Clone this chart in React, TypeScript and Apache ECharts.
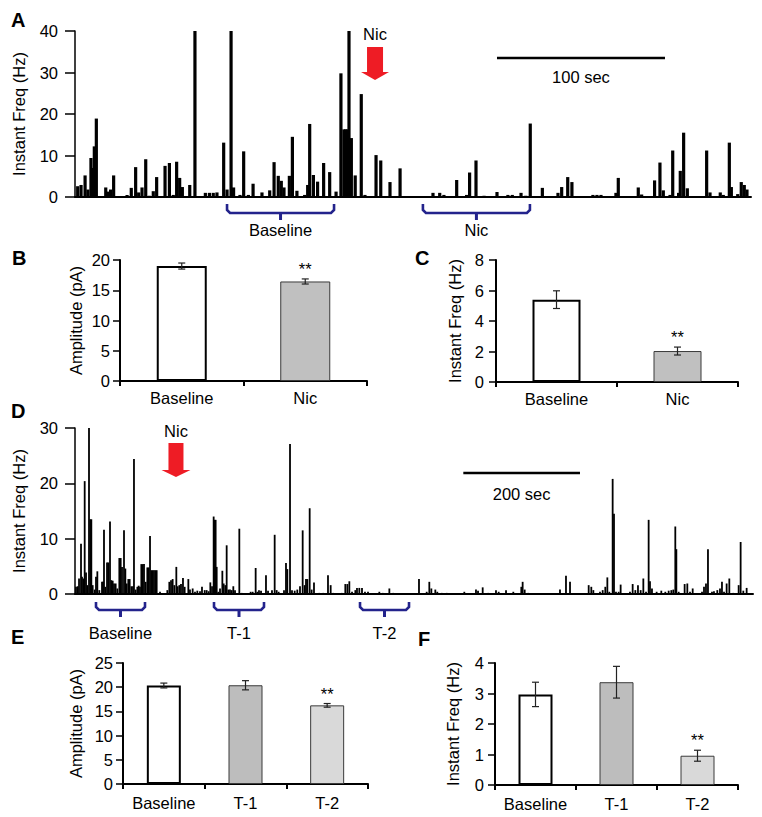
import { useEffect, useRef } from "react";
import * as echarts from "echarts";

const FONT = '"Liberation Sans", Arial, Helvetica, sans-serif';
const FS = 16.5;

// ---------------- Panel A: instantaneous frequency trace (time s, Hz) ----------------
const traceATime = [
  1.6, 3.6, 6.0, 7.7, 9.5, 10.7, 11.5, 12.7, 18.3, 19.8, 21.2, 23.0, 31.0, 33.5, 36.1, 37.9, 39.9, 42.1,
  44.2, 46.6, 48.6, 53.6, 56.2, 58.5, 60.5, 62.3, 63.9, 68.3, 71.4, 77.6, 80.0, 82.3, 84.5, 88.5, 90.5,
  92.9, 94.4, 98.2, 100.4, 103.2, 106.0, 111.3, 115.9, 118.5, 121.0, 122.8, 124.4, 127.6, 129.4, 132.1,
  136.7, 138.5, 139.7, 141.9, 144.4, 148.0, 151.6, 155.4, 158.3, 160.1, 161.1, 162.1, 163.1, 164.5, 166.8,
  170.4, 172.6, 179.2, 182.0, 187.5, 193.5, 206.8, 213.1, 217.1, 219.6, 227.2, 233.1, 234.9, 238.7, 243.5,
  251.2, 257.7, 260.3, 265.5, 268.3, 271.0, 278.2, 282.9, 287.5, 289.7, 293.3, 295.8, 308.3, 310.7, 313.1,
  322.0, 323.4, 335.3, 337.3, 345.0, 348.2, 350.2, 354.2, 355.8, 359.3, 360.3, 362.3, 364.5, 376.0, 378.0,
  384.1, 385.9, 389.5, 390.7, 394.5, 396.6, 398.4, 400.0,
];
const traceAFreq = [
  2.6, 2.9, 5.2, 1.8, 9.4, 7.0, 12.2, 18.9, 2.3, 1.3, 1.8, 5.2, 0.5, 2.2, 7.2, 1.1, 2.3, 9.1,
  0.3, 1.4, 4.8, 7.5, 8.2, 0.5, 8.5, 4.6, 2.4, 2.9, 40, 1.0, 1.0, 1.0, 1.1, 13.1, 1.8,
  40, 2.3, 0.5, 11.0, 0.5, 3.2, 1.1, 1.6, 8.4, 5.1, 3.9, 2.3, 5.1, 14.5, 1.5,
  0.5, 2.9, 17.6, 5.3, 3.7, 8.2, 6.0, 1.3, 29.8, 16.3, 16.3, 16.3, 40, 14.2, 5.2,
  24.8, 0.5, 10.1, 8.8, 3.6, 6.9, 0.2, 1.0, 1.0, 0.5, 4.1, 0.5, 5.9, 8.8, 0.3,
  1.2, 0.5, 0.5, 1.0, 0.3, 17.7, 2.2, 0.2, 1.0, 2.4, 4.8, 3.6, 0.5, 0.5, 0.5,
  1.0, 4.6, 2.3, 0.6, 4.0, 8.3, 1.6, 0.5, 11.2, 1.0, 6.3, 15.5, 2.1, 11.2, 1.1,
  1.1, 0.5, 13.1, 2.4, 0.7, 3.6, 2.9, 1.8,
];
const traceAYMax = 40;
const traceAYStep = 10;
const traceATMax = 402.4;
const traceABraces = [
  { label: "Baseline", from: 90.5, to: 154.2 },
  { label: "Nic", from: 207.1, to: 270.8 },
];
const traceANicAt = 178.6;
const traceAScale = { from: 251.2, to: 351.2, label: "100 sec" };

// ---------------- Panel D: instantaneous frequency trace (time s, Hz) ----------------
const traceDTime = [
  1.7, 4.6, 6.9, 10.3, 12.0, 14.3, 16.6, 18.9, 21.1, 24.0, 26.3, 28.0, 30.3, 33.7, 36.0, 38.3, 41.7, 46.3,
  48.0, 49.7, 52.0, 54.9, 57.1, 60.0, 62.3, 64.6, 66.9, 69.7, 72.6, 76.0, 78.3, 80.6, 84.0, 86.3, 88.6,
  91.4, 93.7, 96.6, 99.4, 101.1, 104.0, 106.9, 109.1, 111.4, 113.7, 116.0, 118.3, 121.1, 124.0, 126.3,
  128.6, 130.9, 133.1, 135.4, 137.7, 140.0, 145.7, 158.3, 161.7, 164.6, 167.4, 170.3, 173.7, 176.0, 178.9,
  181.7, 185.1, 188.0, 194.3, 197.1, 201.7, 205.7, 209.7, 214.3, 217.7, 222.3, 225.7, 229.1, 232.0, 234.9,
  237.7, 239.4, 241.1, 242.9, 245.7, 248.6, 252.6, 254.9, 257.7, 260.0, 262.9, 265.7, 268.6, 271.4, 274.3,
  281.7, 285.7, 301.1, 304.6, 309.7, 312.6, 315.4, 318.9, 327.4, 330.9, 337.7, 342.3, 345.7, 349.1, 358.3,
  361.7, 364.0, 368.6, 372.0, 376.6, 381.1, 385.7, 390.3, 393.7, 396.0, 398.3, 402.3, 405.7, 409.7, 418.9,
  425.7, 433.7, 438.3, 442.9, 457.1, 463.4, 466.9, 470.3, 474.9, 480.6, 483.4, 487.4, 492.0, 497.1, 502.3,
  509.1, 521.7, 527.4, 538.9, 545.7, 562.9, 568.6, 589.7, 602.9, 607.4, 610.9, 617.7, 621.1, 628.6, 637.1,
  667.4, 687.4, 690.9, 698.9, 708.6, 711.4, 721.7, 726.3, 738.9, 751.4, 765.1, 767.4, 770.9, 777.1, 831.4,
  841.7, 848.6, 880.6, 885.1, 888.6, 900.0, 904.6, 909.1, 912.6, 916.0, 921.7, 924.0, 927.4, 932.0, 935.4,
  951.4, 956.0, 960.6, 965.1, 969.7, 974.3, 978.9, 983.4, 985.7, 989.1, 997.1, 1005.1, 1012.0, 1017.7, 1022.3,
  1025.7, 1029.1, 1030.9, 1034.9, 1045.1, 1049.7, 1054.3, 1058.9, 1074.9, 1078.3, 1081.7, 1085.1, 1092.0, 1095.4, 1101.1,
  1105.7, 1109.1, 1112.6, 1117.1, 1121.7, 1128.6, 1137.7, 1141.1, 1145.7, 1151.4,
];
const traceDFreq = [
  1.3, 1.4, 2.8, 9.1, 3.1, 2.8, 20.4, 3.9, 1.6, 30, 13.5, 13.5, 1.6, 0.8, 3.1, 4.1, 0.7, 2.2,
  2.2, 11.6, 1.3, 5.7, 5.7, 13.1, 2.5, 2.4, 1.9, 1.9, 1.0, 6.5, 6.5, 4.9, 11.5, 4.6, 1.9,
  2.7, 2.7, 1.4, 1.4, 24.4, 0.8, 1.3, 1.5, 1.3, 5.4, 5.4, 5.4, 2.2, 4.8, 4.8,
  10.5, 4.3, 4.3, 4.3, 4.3, 4.3, 0.4, 0.7, 2.2, 2.5, 2.7, 1.6, 4.9, 1.4, 1.6,
  1.8, 2.9, 1.3, 2.7, 0.8, 1.0, 0.4, 0.6, 0.5, 1.3, 0.7, 0.7, 0.5, 2.1, 1.4,
  14.0, 13.4, 13.4, 4.9, 0.4, 1.0, 4.2, 1.9, 1.6, 8.8, 0.8, 0.8, 0.7, 1.4, 0.7,
  11.8, 0.2, 0.4, 0.4, 4.7, 0.4, 0.7, 0.6, 3.4, 0.6, 0.7, 10.7, 0.7, 0.4, 0.7,
  5.6, 4.5, 27.1, 0.7, 0.6, 0.8, 1.4, 11.5, 1.6, 2.7, 2.7, 15.5, 0.8, 2.1, 0.2,
  0.2, 3.4, 1.6, 0.2, 0.2, 1.8, 1.8, 2.3, 0.4, 0.7, 1.1, 1.1, 1.1, 0.4, 0.4,
  0.2, 0.4, 0.2, 1.0, 0.2, 0.1, 0.1, 2.7, 0.4, 2.2, 1.0, 0.8, 0.4, 0.2, 0.2,
  0.4, 0.8, 0.6, 1.2, 0.2, 0.2, 0.7, 0.4, 0.7, 0.4, 1.3, 2.2, 0.8, 0.2, 0.8,
  3.3, 2.2, 1.6, 1.3, 0.7, 0.4, 0.7, 1.3, 3.0, 0.4, 20.8, 14.5, 0.4, 0.4, 1.7,
  0.4, 1.8, 0.7, 1.6, 0.7, 2.8, 0.4, 13.4, 2.3, 1.0, 0.4, 0.6, 0.4, 0.6, 0.7,
  0.8, 12.2, 8.1, 0.4, 1.8, 1.9, 0.4, 1.0, 0.4, 1.3, 1.9, 8.1, 0.4, 0.5, 0.7,
  1.0, 2.2, 0.4, 1.9, 2.8, 0.2, 1.6, 9.4, 0.6, 1.1,
];
const traceDYMax = 30;
const traceDYStep = 10;
const traceDTMax = 1162.3;
const traceDBraces = [
  { label: "Baseline", from: 36.0, to: 120.0 },
  { label: "T-1", from: 238.3, to: 324.0 },
  { label: "T-2", from: 488.6, to: 572.6 },
];
const traceDNicAt = 173.1;
const traceDScale = { from: 665.7, to: 865.7, label: "200 sec" };

// ---------------- Panels B, C (Baseline vs Nic) ----------------
const catsBC = ["Baseline", "Nic"];
const ampBMean = [19.0, 16.45];
const ampBErr = [0.5, 0.42];
const freqCMean = [5.4, 2.03];
const freqCErr = [0.58, 0.26];
const sigBC = [false, true];

// ---------------- Panels E, F (Baseline, T-1, T-2) ----------------
const catsEF = ["Baseline", "T-1", "T-2"];
const ampEMean = [20.35, 20.4, 16.25];
const ampEErr = [0.5, 0.95, 0.38];
const freqFMean = [2.97, 3.37, 0.96];
const freqFErr = [0.4, 0.52, 0.18];
const sigEF = [false, false, true];

// styles
const fillsBC = ["#ffffff", "#c0c0c0"];
const bordersBC = ["#000000", "#3a3a3a"];
const borderWBC = [2, 1];
const fillsEF = ["#ffffff", "#bdbdbd", "#d9d9d9"];
const bordersEF = ["#000000", "#3a3a3a", "#3a3a3a"];
const borderWEF = [2, 1, 1];

const RED = "#ee1c25";
const NAVY = "#23238c";

function errRender(params: any, api: any) {
  const i = api.value(0);
  const m = api.value(1);
  const e = api.value(2);
  const s = api.value(3);
  const top = api.coord([i, m + e]);
  const bot = api.coord([i, m - e]);
  const cw = 3.5;
  const st = { stroke: "#222", lineWidth: 1.2 };
  const children: any[] = [
    { type: "line", shape: { x1: top[0], y1: top[1], x2: bot[0], y2: bot[1] }, style: st },
    { type: "line", shape: { x1: top[0] - cw, y1: top[1], x2: top[0] + cw, y2: top[1] }, style: st },
    { type: "line", shape: { x1: bot[0] - cw, y1: bot[1], x2: bot[0] + cw, y2: bot[1] }, style: st },
  ];
  if (s) {
    children.push({
      type: "text",
      style: {
        text: "**",
        x: top[0],
        y: top[1] - 10,
        align: "center",
        verticalAlign: "middle",
        textAlign: "center",
        textVerticalAlign: "middle",
        font: `${FS}px ${FONT}`,
        fill: "#000",
      },
    });
  }
  return { type: "group", children };
}

const axisLineBlack = (w: number) => ({ show: true, lineStyle: { color: "#000", width: w } });

export default function App() {
  const ref = useRef<HTMLDivElement>(null);

  useEffect(() => {
    if (!ref.current) return;
    const chart = echarts.init(ref.current, undefined, { renderer: "svg" });

    const grids = [
      { left: 75, top: 31, width: 676, height: 166 }, // A
      { left: 120, top: 260, width: 247, height: 121 }, // B
      { left: 496, top: 260, width: 242, height: 122 }, // C
      { left: 75, top: 428, width: 678, height: 166 }, // D
      { left: 123, top: 663, width: 245, height: 121 }, // E
      { left: 495, top: 663, width: 243, height: 122 }, // F
    ];

    const traceX = (gi: number, max: number) => ({
      type: "value",
      gridIndex: gi,
      min: 0,
      max,
      axisLine: axisLineBlack(2),
      axisTick: { show: false },
      axisLabel: { show: false },
      splitLine: { show: false },
    });
    const traceY = (gi: number, max: number, step: number, gap: number) => ({
      type: "value",
      gridIndex: gi,
      min: 0,
      max,
      interval: step,
      name: "Instant Freq (Hz)",
      nameLocation: "middle",
      nameGap: gap,
      nameTextStyle: { fontSize: FS, fontFamily: FONT, color: "#000" },
      axisLine: axisLineBlack(1.5),
      axisTick: { show: true, length: 10, lineStyle: { color: "#000", width: 1.5 } },
      axisLabel: { fontSize: FS, fontFamily: FONT, color: "#000", margin: 17 },
      splitLine: { show: false },
    });
    const catX = (gi: number, cats: string[], margin: number) => ({
      type: "category",
      gridIndex: gi,
      data: cats,
      axisLine: axisLineBlack(2),
      axisTick: { show: true, alignWithLabel: false, interval: 0, length: 5, lineStyle: { color: "#000", width: 2 } },
      axisLabel: { fontSize: FS, fontFamily: FONT, color: "#000", margin, interval: 0, hideOverlap: false },
      splitLine: { show: false },
    });
    const barY = (gi: number, name: string, max: number, step: number, gap: number, margin: number) => ({
      type: "value",
      gridIndex: gi,
      min: 0,
      max,
      interval: step,
      name,
      nameLocation: "middle",
      nameGap: gap,
      nameTextStyle: { fontSize: FS, fontFamily: FONT, color: "#000" },
      axisLine: axisLineBlack(2),
      axisTick: { show: true, length: 7, lineStyle: { color: "#000", width: 1.5 } },
      axisLabel: { fontSize: FS, fontFamily: FONT, color: "#000", margin },
      splitLine: { show: false },
    });

    const traceSeries = (gi: number, t: number[], f: number[], w: number) => ({
      type: "bar",
      xAxisIndex: gi,
      yAxisIndex: gi,
      barWidth: w,
      silent: true,
      itemStyle: { color: "#000" },
      data: t.map((x, i) => [x, f[i]]),
    });
    const barSeries = (gi: number, means: number[], fills: string[], borders: string[], bws: number[], w: number) => ({
      type: "bar",
      xAxisIndex: gi,
      yAxisIndex: gi,
      barWidth: w,
      silent: true,
      data: means.map((v, i) => ({
        value: v,
        itemStyle: { color: fills[i], borderColor: borders[i], borderWidth: bws[i] },
      })),
    });
    const errSeries = (gi: number, cats: string[], means: number[], errs: number[], sig: boolean[]) => ({
      type: "custom",
      xAxisIndex: gi,
      yAxisIndex: gi,
      silent: true,
      z: 5,
      encode: { x: 0, y: 1 },
      renderItem: errRender,
      data: means.map((v, i) => [cats[i], v, errs[i], sig[i] ? 1 : 0]),
    });

    chart.setOption({
      animation: false,
      textStyle: { fontFamily: FONT },
      grid: grids,
      xAxis: [
        traceX(0, traceATMax),
        catX(1, catsBC, 8),
        catX(2, catsBC, 8),
        traceX(3, traceDTMax),
        catX(4, catsEF, 10),
        catX(5, catsEF, 10),
      ],
      yAxis: [
        traceY(0, traceAYMax, traceAYStep, 48),
        barY(1, "Amplitude (pA)", 20, 5, 36, 10),
        barY(2, "Instant Freq (Hz)", 8, 2, 33, 12),
        traceY(3, traceDYMax, traceDYStep, 48),
        barY(4, "Amplitude (pA)", 25, 5, 39, 10),
        barY(5, "Instant Freq (Hz)", 4, 1, 34, 11),
      ],
      series: [
        traceSeries(0, traceATime, traceAFreq, 3.2),
        barSeries(1, ampBMean, fillsBC, bordersBC, borderWBC, 50),
        errSeries(1, catsBC, ampBMean, ampBErr, sigBC),
        barSeries(2, freqCMean, fillsBC, bordersBC, borderWBC, 48),
        errSeries(2, catsBC, freqCMean, freqCErr, sigBC),
        traceSeries(3, traceDTime, traceDFreq, 1.8),
        barSeries(4, ampEMean, fillsEF, bordersEF, borderWEF, 34),
        errSeries(4, catsEF, ampEMean, ampEErr, sigEF),
        barSeries(5, freqFMean, fillsEF, bordersEF, borderWEF, 34),
        errSeries(5, catsEF, freqFMean, freqFErr, sigEF),
      ],
    });

    const px = (gi: number, t: number) => (chart.convertToPixel({ gridIndex: gi } as any, [t, 0]) as number[])[0];

    const txt = (text: string, x: number, y: number, size = FS, bold = false, align = "center") => ({
      type: "text",
      silent: true,
      style: {
        text,
        x,
        y,
        font: `${bold ? "bold " : ""}${size}px ${FONT}`,
        fill: "#000",
        align,
        verticalAlign: "middle",
        textAlign: align,
        textVerticalAlign: "middle",
      },
    });
    const arrow = (cx: number, top: number, shaftBot: number, tip: number, sh: number, hh: number) => ({
      type: "polygon",
      silent: true,
      shape: {
        points: [
          [cx - sh, top],
          [cx + sh, top],
          [cx + sh, shaftBot],
          [cx + hh, shaftBot],
          [cx, tip],
          [cx - hh, shaftBot],
          [cx - sh, shaftBot],
        ],
      },
      style: { fill: RED },
    });
    const brace = (x0: number, x1: number, yTop: number, yBot: number, yNub: number) => {
      const cx = (x0 + x1) / 2;
      return [
        {
          type: "polyline",
          silent: true,
          shape: {
            points: [
              [x0, yTop],
              [x0, yBot - 3],
              [x0 + 3, yBot],
              [x1 - 3, yBot],
              [x1, yBot - 3],
              [x1, yTop],
            ],
          },
          style: { stroke: NAVY, lineWidth: 2.6, fill: null },
        },
        {
          type: "line",
          silent: true,
          shape: { x1: cx, y1: yBot, x2: cx, y2: yNub },
          style: { stroke: NAVY, lineWidth: 3 },
        },
      ];
    };
    const hline = (x0: number, x1: number, y: number, w: number) => ({
      type: "line",
      silent: true,
      shape: { x1: x0, y1: y, x2: x1, y2: y },
      style: { stroke: "#000", lineWidth: w },
    });

    const graphic: any[] = [];
    // panel letters
    graphic.push(txt("A", 11, 20, 20, true, "left"));
    graphic.push(txt("B", 12, 258, 20, true, "left"));
    graphic.push(txt("C", 415, 258, 20, true, "left"));
    graphic.push(txt("D", 11, 411, 20, true, "left"));
    graphic.push(txt("E", 11, 637, 20, true, "left"));
    graphic.push(txt("F", 418, 639, 20, true, "left"));

    // Panel A annotations
    const aNic = px(0, traceANicAt);
    graphic.push(txt("Nic", aNic, 34));
    graphic.push(arrow(aNic, 47, 72, 80, 8, 14));
    const as0 = px(0, traceAScale.from);
    const as1 = px(0, traceAScale.to);
    graphic.push(hline(as0, as1, 58, 2.5));
    graphic.push(txt(traceAScale.label, (as0 + as1) / 2, 77));
    traceABraces.forEach((b) => {
      const x0 = px(0, b.from);
      const x1 = px(0, b.to);
      graphic.push(...brace(x0, x1, 204, 213, 220));
      graphic.push(txt(b.label, (x0 + x1) / 2, 230));
    });

    // Panel D annotations
    const dNic = px(3, traceDNicAt);
    graphic.push(txt("Nic", dNic, 431));
    graphic.push(arrow(dNic, 443, 470, 477, 7.5, 14.5));
    const ds0 = px(3, traceDScale.from);
    const ds1 = px(3, traceDScale.to);
    graphic.push(hline(ds0, ds1, 473, 2.5));
    graphic.push(txt(traceDScale.label, (ds0 + ds1) / 2, 494));
    traceDBraces.forEach((b) => {
      const x0 = px(3, b.from);
      const x1 = px(3, b.to);
      graphic.push(...brace(x0, x1, 602, 610, 617));
      graphic.push(txt(b.label, (x0 + x1) / 2, 633));
    });

    chart.setOption({ graphic });

    return () => chart.dispose();
  }, []);

  return (
    <div
      ref={ref}
      style={{ position: "absolute", left: 0, top: 0, width: 762, height: 817, background: "#fff" }}
    />
  );
}
